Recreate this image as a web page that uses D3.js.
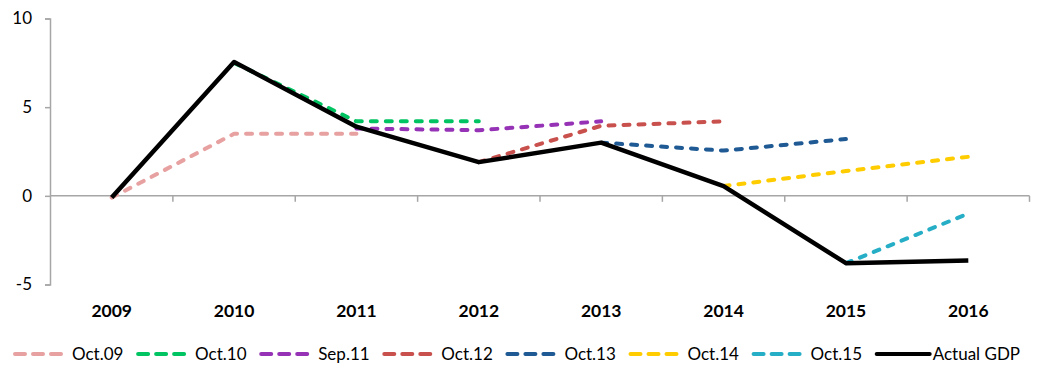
<!DOCTYPE html>
<html>
<head>
<meta charset="utf-8">
<script src="https://cdn.jsdelivr.net/npm/d3@7"></script>
<style>
  body { margin: 0; background: #fff; }
  text { font-family: Lato, "Open Sans", sans-serif; }
</style>
</head>
<body>
<div id="chart"></div>
<script>
// categories
const years = ["2009", "2010", "2011", "2012", "2013", "2014", "2015", "2016"];
const yTicks = [-5, 0, 5, 10];

// forecast vintages (null = no value)
const oct09 = [-0.1, 3.5, 3.5, null, null, null, null, null];
const oct10 = [null, 7.5, 4.2, 4.2, null, null, null, null];
const sep11 = [null, null, 3.8, 3.7, 4.2, null, null, null];
const oct12 = [null, null, null, 1.9, 3.95, 4.2, null, null];
const oct13 = [null, null, null, null, 3.0, 2.55, 3.2, null];
const oct14 = [null, null, null, null, null, 0.55, 1.4, 2.2];
const oct15 = [null, null, null, null, null, null, -3.8, -1.0];
const actualGdp = [-0.1, 7.55, 3.9, 1.9, 3.0, 0.55, -3.8, -3.65];

const seriesNames = ["Oct.09", "Oct.10", "Sep.11", "Oct.12", "Oct.13", "Oct.14", "Oct.15", "Actual GDP"];
const seriesValues = [oct09, oct10, sep11, oct12, oct13, oct14, oct15, actualGdp];
const seriesColors = ["#e6a1a0", "#00c462", "#9532b5", "#c8504d", "#1f5a94", "#ffcc00", "#26aec6", "#000000"];

let margin = { top: 18, right: 13, bottom: 94, left: 50 },
    width = 1042 - margin.left - margin.right,
    height = 379 - margin.top - margin.bottom;

let svg = d3.select("#chart")
    .append("svg")
    .attr("width", 1042)
    .attr("height", 379);

let g = svg.append("g")
    .attr("transform", "translate(" + margin.left + "," + margin.top + ")");

let x = d3.scaleBand()
    .domain(years)
    .range([0.5, 979.5]);

let y = d3.scaleLinear()
    .domain([-5, 10])
    .range([266.5, 0.5]);

const axisColor = "#a6a6a6";

// y axis (plain hyphen for negatives, like the original)
let yAxis = g.append("g")
    .call(d3.axisLeft(y).tickValues(yTicks).tickSize(5).tickPadding(13)
        .tickFormat(d => String(d)));
yAxis.select(".domain").attr("stroke", axisColor).attr("stroke-width", 1.5);
yAxis.selectAll(".tick line").attr("stroke", axisColor).attr("stroke-width", 1.5);
yAxis.selectAll(".tick text")
    .attr("fill", "#000")
    .style("font-size", "17px")
    .style("font-family", "Lato, sans-serif");

// x axis at zero, ticks between categories
let boundaries = years.map(d => x(d)).concat([x(years[years.length - 1]) + x.bandwidth()]);
let xAxis = g.append("g").attr("transform", "translate(0," + y(0) + ")");
xAxis.append("line")
    .attr("x1", 0).attr("x2", boundaries[boundaries.length - 1])
    .attr("stroke", axisColor).attr("stroke-width", 1.5);
xAxis.selectAll("line.tk")
    .data(boundaries.slice(1))
    .enter().append("line")
    .attr("class", "tk")
    .attr("x1", d => d).attr("x2", d => d)
    .attr("y1", 0).attr("y2", 6)
    .attr("stroke", axisColor).attr("stroke-width", 1.5);

// category labels along the bottom
g.selectAll("text.cat")
    .data(years)
    .enter().append("text")
    .attr("class", "cat")
    .attr("x", d => x(d) + x.bandwidth() / 2)
    .attr("y", y(-5) + 32)
    .attr("text-anchor", "middle")
    .style("font-size", "17.5px")
    .style("font-weight", "bold")
    .text(d => d);

// lines
let line = d3.line()
    .defined(d => d.v !== null)
    .x(d => x(d.year) + x.bandwidth() / 2)
    .y(d => y(d.v));

seriesValues.forEach((vals, i) => {
    let pts = years.map((yr, j) => ({ year: yr, v: vals[j] }));
    let isActual = i === seriesValues.length - 1;
    g.append("path")
        .datum(pts)
        .attr("fill", "none")
        .attr("stroke", seriesColors[i])
        .attr("stroke-width", isActual ? 4.5 : 4)
        .attr("stroke-linejoin", "round")
        .attr("stroke-linecap", isActual ? "butt" : "round")
        .attr("stroke-dasharray", isActual ? null : "6,9")
        .attr("d", line);
});

// draw actual on top
g.selectAll("path").filter((d, i, nodes) => i === nodes.length - 1).raise();

// legend
let legend = svg.append("g").attr("transform", "translate(0,354)");
let items = legend.selectAll("g")
    .data(seriesNames)
    .enter().append("g")
    .attr("transform", (d, i) => "translate(" + (15 + i * 123.1) + ",0)");

items.append("line")
    .attr("x1", 0).attr("x2", (d, i) => i === 7 ? 53 : 46)
    .attr("stroke", (d, i) => seriesColors[i])
    .attr("stroke-width", 4)
    .attr("stroke-linecap", "round")
    .attr("stroke-dasharray", (d, i) => i === 7 ? null : "10,8");

items.append("text")
    .attr("x", (d, i) => i === 7 ? 56 : 57)
    .attr("dy", "0.35em")
    .style("font-size", "17px")
    .text(d => d);
</script>
</body>
</html>
